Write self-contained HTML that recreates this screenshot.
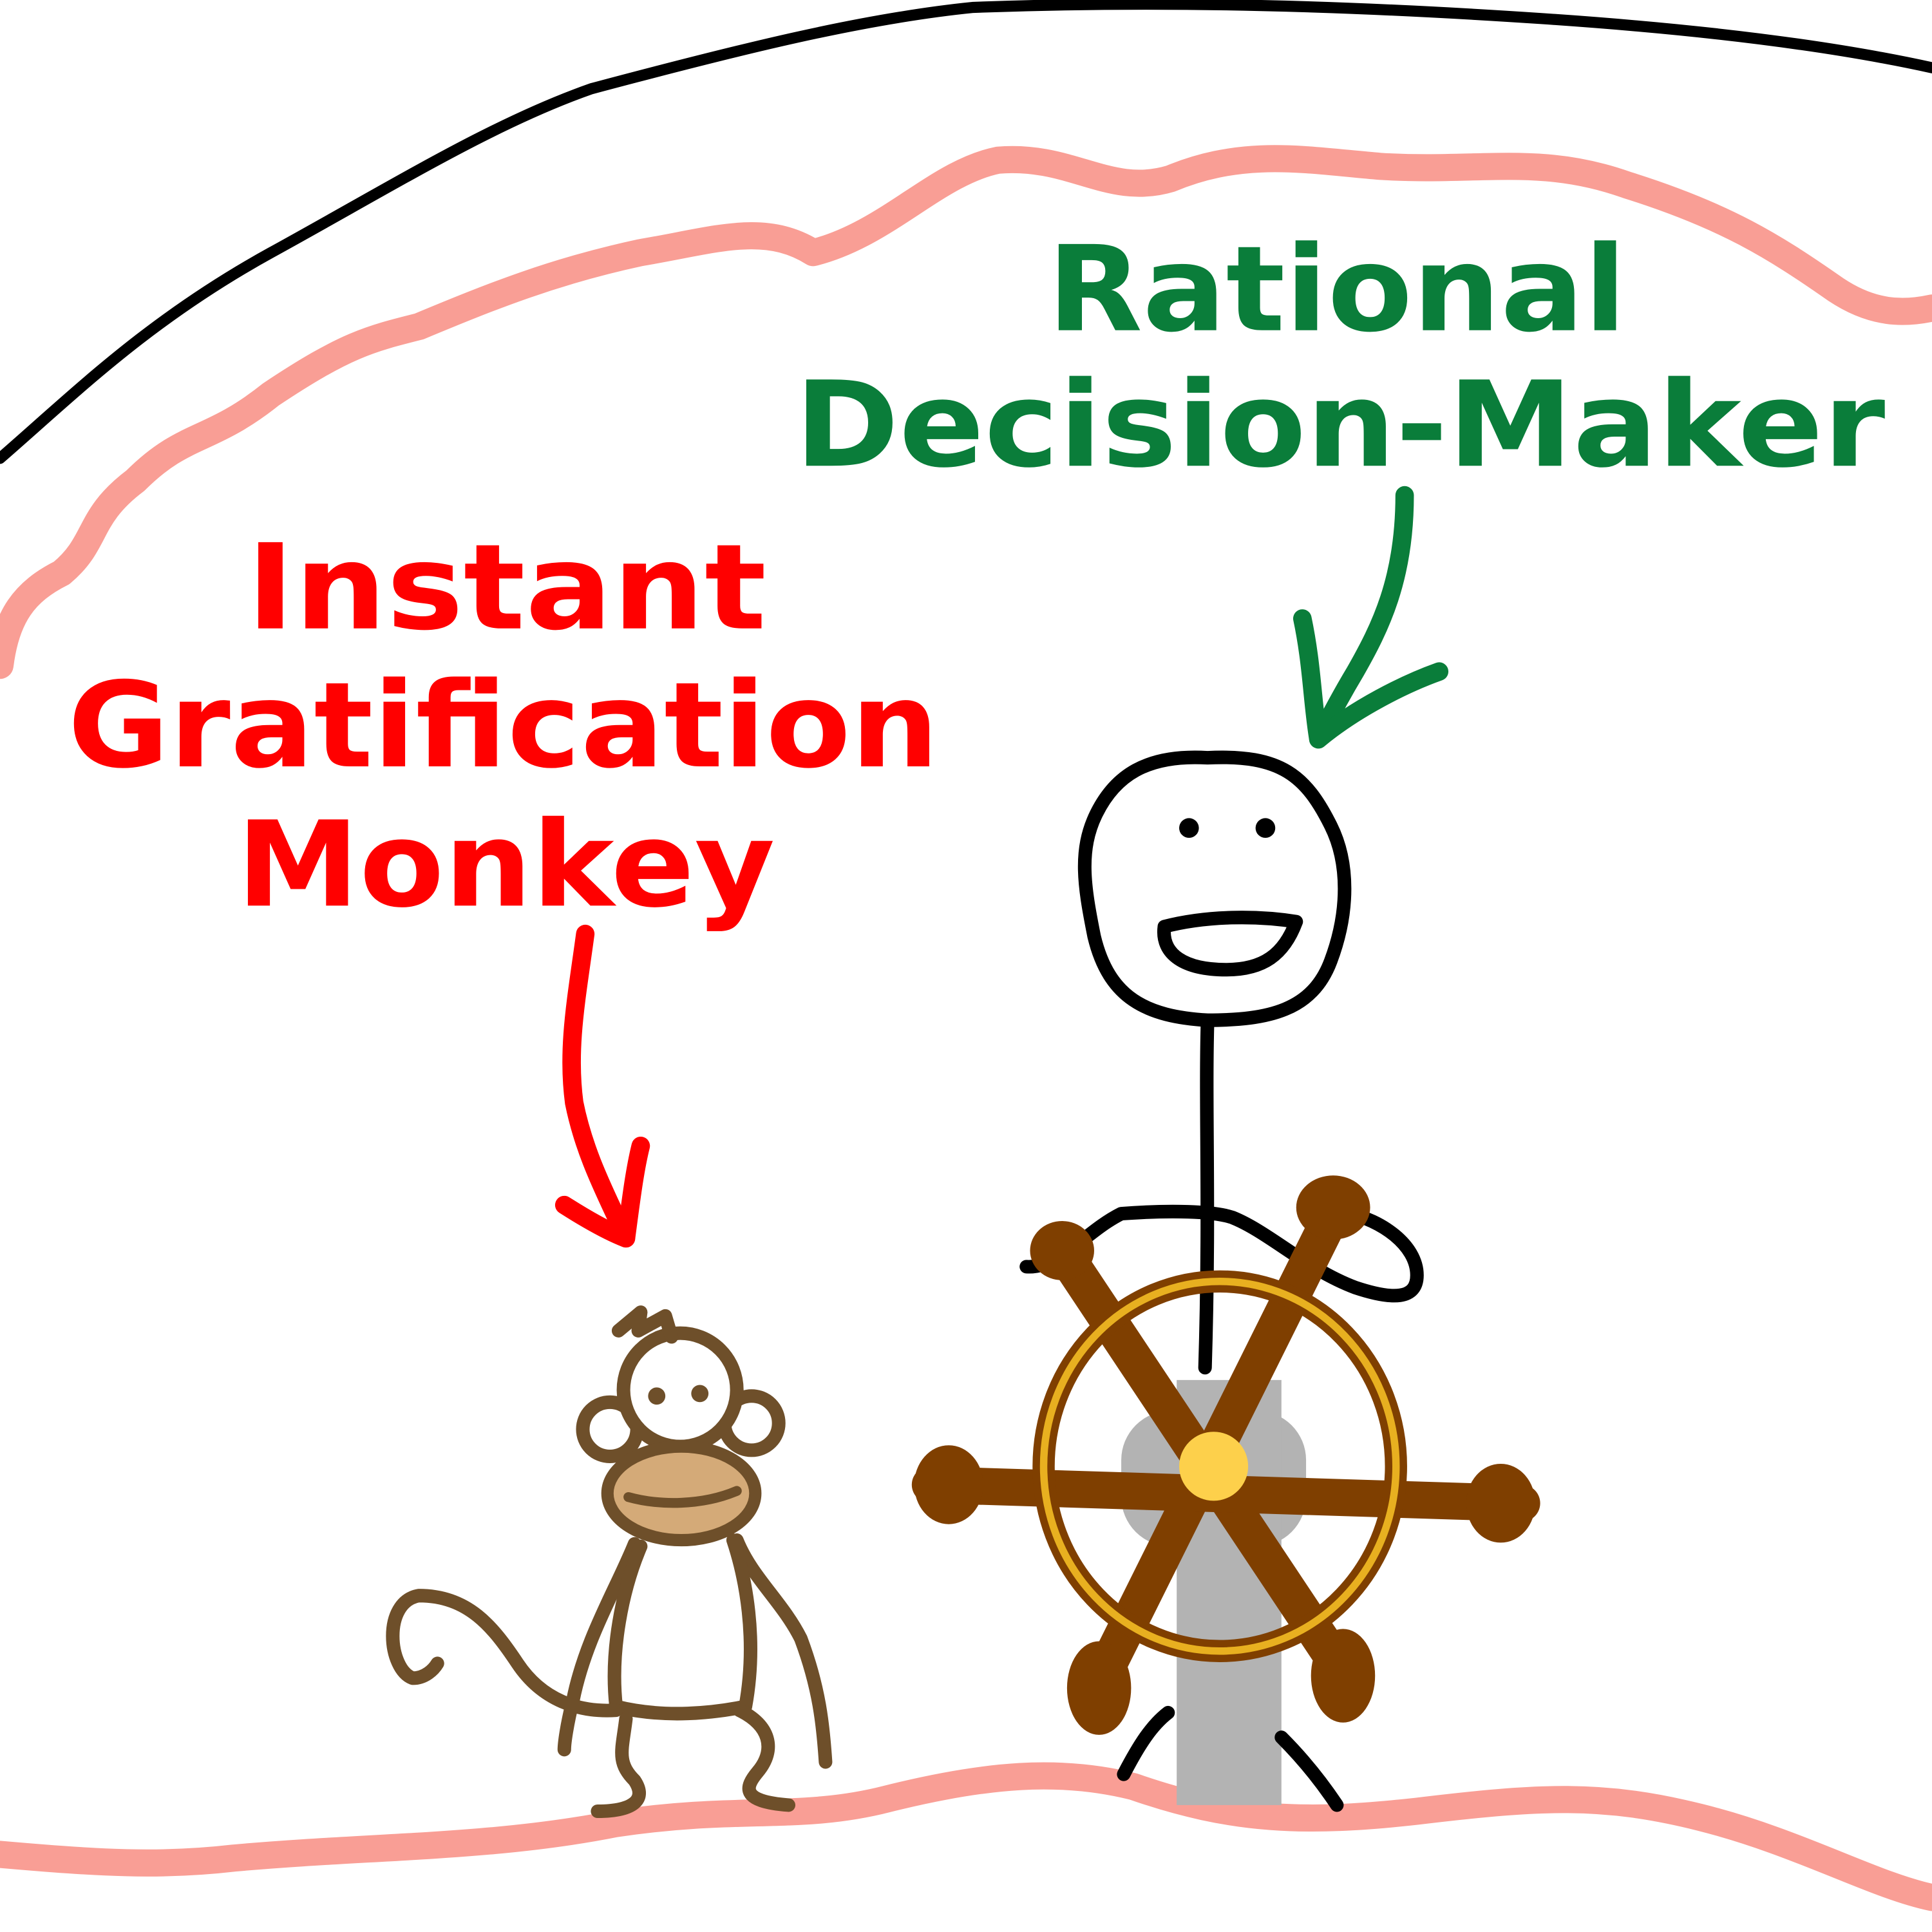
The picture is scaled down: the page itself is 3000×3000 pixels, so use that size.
<!DOCTYPE html>
<html><head><meta charset="utf-8"><style>
html,body{margin:0;padding:0;background:#fff;}
svg{display:block;}
</style></head><body>
<svg width="3000" height="3000" viewBox="0 0 1568 1568" xmlns="http://www.w3.org/2000/svg">
<rect width="1568" height="1568" fill="#fff"/>
<path d="M0,372 C60,320 120,260 220,205 C320,150 400,100 480,72 C600,40 700,15 790,6 C950,0 1100,5 1250,15 C1400,25 1500,40 1568,55" fill="none" stroke="#000" stroke-width="9" stroke-linecap="round"/>
<path d="M0,540 C5,500 20,480 50,465 C80,440 70,420 110,390 C150,350 170,360 220,320 C280,280 300,275 340,265 C400,240 450,220 520,205 C580,195 620,180 660,205 C720,190 760,140 810,130 C870,125 900,160 950,145 C1010,120 1060,130 1120,135 C1200,140 1250,125 1320,150 C1400,175 1440,200 1490,235 C1520,255 1545,255 1568,250" fill="none" stroke="#f99e95" stroke-width="22" stroke-linecap="round" stroke-linejoin="round"/>
<path d="M0,1505 C80,1512 130,1515 190,1508 C300,1498 400,1500 500,1480 C600,1465 650,1478 720,1460 C800,1440 860,1435 920,1450 C1000,1478 1060,1480 1150,1470 C1250,1458 1300,1455 1380,1475 C1460,1495 1520,1530 1568,1540" fill="none" stroke="#f99e95" stroke-width="22" stroke-linecap="round" stroke-linejoin="round"/>
<g font-family="'DejaVu Sans','Liberation Sans',sans-serif" font-weight="bold">
<text x="850" y="268" font-size="96" fill="#0a7d3a" textLength="470" lengthAdjust="spacingAndGlyphs">Rational</text>
<text x="645" y="378" font-size="96" fill="#0a7d3a" textLength="885" lengthAdjust="spacingAndGlyphs">Decision-Maker</text>
<text x="200" y="510" font-size="96" fill="#ff0000" textLength="422" lengthAdjust="spacingAndGlyphs">Instant</text>
<text x="55" y="622" font-size="96" fill="#ff0000" textLength="707" lengthAdjust="spacingAndGlyphs">Gratification</text>
<text x="192" y="735" font-size="96" fill="#ff0000" textLength="437" lengthAdjust="spacingAndGlyphs">Monkey</text>
</g>
<g fill="none" stroke="#0a7d3a" stroke-width="15" stroke-linecap="round" stroke-linejoin="round">
<path d="M1140,402 C1140,470 1120,510 1100,545 C1085,570 1075,590 1070,600"/>
<path d="M1057,502 C1065,540 1065,570 1070,600 C1100,575 1140,555 1168,545"/>
</g>
<g fill="none" stroke="#ff0000" stroke-width="15" stroke-linecap="round" stroke-linejoin="round">
<path d="M475,758 C468,810 460,850 466,895 C475,940 495,975 508,1005"/>
<path d="M458,978 C480,992 495,1000 508,1005 C512,975 515,950 520,930"/>
</g>
<rect x="910" y="1145" width="150" height="110" rx="40" fill="#b3b3b3"/>
<rect x="955" y="1120" width="85" height="345" fill="#b3b3b3"/>
<g fill="none" stroke="#000" stroke-width="11" stroke-linecap="round" stroke-linejoin="round">
<path d="M980,615 C930,612 905,630 890,660 C875,690 880,720 888,760 C900,810 930,825 980,828 C1030,828 1065,820 1080,780 C1095,740 1095,700 1080,670 C1060,630 1040,612 980,615 Z"/>
<path d="M945,752 C980,743 1020,743 1052,748 C1042,775 1025,787 995,787 C962,787 942,775 945,752 Z"/>
<path d="M980,830 C978,900 982,980 978,1110"/>
<path d="M833,1028 C860,1030 880,1000 910,985 C950,982 985,983 1000,988 C1030,1000 1060,1030 1100,1045 C1130,1055 1150,1055 1150,1035 C1150,1010 1120,990 1095,985"/>
<path d="M912,1440 C925,1415 935,1400 948,1390"/>
<path d="M1040,1410 C1060,1430 1075,1450 1085,1465"/>
</g>
<circle cx="965" cy="672" r="8" fill="#000"/>
<circle cx="1027" cy="672" r="8" fill="#000"/>
<g stroke="#7f3f00" stroke-linecap="round" fill="none">
<line x1="862" y1="1015" x2="1095" y2="1365" stroke-width="30"/>
<line x1="1085" y1="978" x2="890" y2="1370" stroke-width="30"/>
<line x1="755" y1="1205" x2="1235" y2="1220" stroke-width="30"/>
</g>
<g fill="#7f3f00">
<ellipse cx="862" cy="1015" rx="26" ry="24"/>
<ellipse cx="1082" cy="980" rx="30" ry="26"/>
<ellipse cx="770" cy="1205" rx="28" ry="32"/>
<ellipse cx="1218" cy="1220" rx="28" ry="32"/>
<ellipse cx="892" cy="1370" rx="26" ry="38"/>
<ellipse cx="1090" cy="1360" rx="26" ry="38"/>
</g>
<ellipse cx="990" cy="1190" rx="143" ry="150" fill="none" stroke="#7f3f00" stroke-width="18"/>
<ellipse cx="990" cy="1190" rx="143" ry="150" fill="none" stroke="#e8b020" stroke-width="6"/>
<circle cx="985" cy="1190" r="28" fill="#fdd04b"/>
<g fill="none" stroke="#6e4f2a" stroke-width="11" stroke-linecap="round" stroke-linejoin="round">
<circle cx="495" cy="1160" r="22" fill="#fff"/>
<circle cx="610" cy="1155" r="22" fill="#fff"/>
<circle cx="552" cy="1128" r="46" fill="#fff"/>
<path d="M502,1080 L520,1065 L518,1080 L540,1068 L545,1085"/>
<path d="M515,1253 C500,1290 475,1330 465,1380 C460,1400 458,1415 458,1420"/>
<path d="M598,1250 C610,1280 635,1300 650,1330 C665,1370 668,1400 670,1430"/>
<path d="M520,1255 C505,1290 495,1340 500,1385 C540,1395 580,1390 605,1385 C615,1330 605,1280 595,1250"/>
<path d="M500,1388 C470,1390 440,1380 420,1350 C400,1320 380,1295 340,1295 C310,1300 315,1355 335,1362 C345,1362 352,1355 355,1350"/>
<path d="M508,1395 C505,1420 500,1430 515,1445 C525,1460 515,1470 485,1470"/>
<path d="M600,1388 C625,1400 630,1420 615,1438 C605,1450 600,1462 640,1465"/>
</g>
<ellipse cx="553" cy="1212" rx="60" ry="38" fill="#d4aa78" stroke="#6e4f2a" stroke-width="10"/>
<path d="M510,1215 C535,1222 570,1222 598,1210" fill="none" stroke="#6e4f2a" stroke-width="8" stroke-linecap="round"/>
<circle cx="533" cy="1133" r="7" fill="#6e4f2a"/>
<circle cx="568" cy="1131" r="7" fill="#6e4f2a"/>
</svg>
</body></html>
